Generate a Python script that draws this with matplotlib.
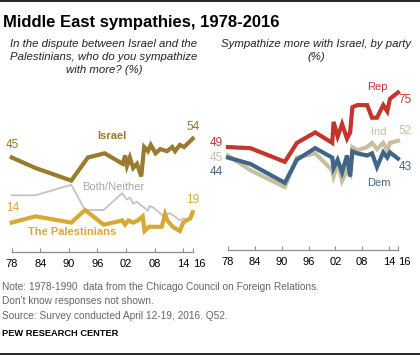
import matplotlib.pyplot as plt
from matplotlib.lines import Line2D

# left panel: who do you sympathize with more (%)
israel_x = [1978, 1983, 1990.5, 1994, 1997.5, 2001.3, 2001.8, 2002.2, 2002.8, 2003.5, 2004.3,
            2005.2, 2005.8, 2006.6, 2007.2, 2008.2, 2009.2, 2010.6, 2011.7, 2012.3, 2013.3, 2014.2, 2016]
israel_y = [45, 40, 34, 45, 47, 42, 46, 41, 45, 40, 42,
            36, 50, 48, 51, 47, 49, 48, 50, 48, 51, 50, 54]

pal_x = [1978, 1983, 1990.5, 1993.4, 1997.3, 2001.2, 2001.8, 2002.5, 2003.5, 2004.5, 2005.5, 2005.9,
         2006.8, 2009.5, 2010.2, 2010.7, 2011.8, 2013.3, 2014, 2014.7, 2015.5, 2016]
pal_y = [14, 17, 14, 20, 13, 15, 13, 15, 14, 15, 17, 10,
         12, 12, 18, 15, 12, 10, 14, 15, 16, 19]

both_x = [1978, 1983, 1990.5, 1993.4, 1997.3, 2001.2, 2002.2, 2002.8, 2003.5, 2004.3, 2005.2, 2005.9,
          2006.6, 2006.9, 2007.8, 2009.6, 2011.1, 2012.2, 2013.3, 2014, 2015, 2016]
both_y = [27, 27, 32, 20, 20, 28, 25, 26, 23, 24, 22, 21,
          19.5, 22, 21, 17.5, 18.5, 17, 15, 16, 15, 17]

# right panel: sympathize more with Israel, by party (%)
party_x = [1978, 1983, 1990.7, 1993.4, 1997.5, 2001.3, 2001.6, 2002.5, 2003.5, 2004.6, 2005.3, 2005.8,
           2006.9, 2009.1, 2010.2, 2011.3, 2012.7, 2013.6, 2014.2, 2016]
rep_y = [49, 48.5, 42, 51, 56, 51, 61, 54, 60, 53, 56, 68,
         69, 69, 63, 63, 69, 66, 72, 75]
ind_y = [45, 38, 30, 44, 46, 38, 35, 41, 33, 38, 36, 49,
         47.5, 49, 51, 48, 51, 47.5, 51, 52]
dem_y = [44, 41, 32, 43, 48.5, 44, 39, 43, 37, 45, 35, 47,
         46, 45, 46, 39.5, 46.5, 44, 46.5, 43.5]

tick_years = [1978, 1984, 1990, 1996, 2002, 2008, 2014, 2016]
tick_labels = ['78', '84', '90', '96', '02', '08', '14', '16']

plt.rcParams['font.family'] = ['Liberation Sans', 'DejaVu Sans']

W, H = 420, 355
fig = plt.figure(figsize=(W / 100, H / 100), dpi=100)


def px_axes(x0, x1, y_base, y_top):
    return fig.add_axes([x0 / W, (H - y_base) / H, (x1 - x0) / W, (y_base - y_top) / H])


def style(ax):
    ax.set_xlim(1978, 2016)
    ax.set_ylim(0, 80)
    for s in ['top', 'left', 'right']:
        ax.spines[s].set_visible(False)
    ax.spines['bottom'].set_color('#8c8c8c')
    ax.spines['bottom'].set_linewidth(0.9)
    ax.set_yticks([])
    ax.set_xticks(tick_years)
    ax.set_xticklabels(tick_labels)
    ax.tick_params(axis='x', direction='in', length=3, color='#8c8c8c', labelsize=8, pad=5)
    ax.get_xticklabels()[-1].set_ha('left')


ax1 = px_axes(11.7, 192.7, 252, 84)
style(ax1)
ax1.plot(both_x, both_y, color='#c3c3c3', lw=1.3, clip_on=False)
ax1.plot(pal_x, pal_y, color='#d8a835', lw=3, clip_on=False, solid_joinstyle='miter')
ax1.plot(israel_x, israel_y, color='#9a7a2c', lw=3, clip_on=False, solid_joinstyle='miter')

ax1.text(1976.8, 48, '45', color='#9a7a2c', fontsize=8.5, ha='left', va='bottom')
ax1.text(2016, 56.5, '54', color='#9a7a2c', fontsize=8.5, ha='center', va='bottom')
ax1.text(1999, 53, 'Israel', color='#9a7a2c', fontsize=8, fontweight='bold', ha='center', va='bottom')
ax1.text(1992.8, 28.5, 'Both/Neither', color='#a8a8a8', fontsize=8, ha='left', va='bottom')
ax1.text(1976.8, 18, '14', color='#d8a835', fontsize=8.5, ha='left', va='bottom')
ax1.text(2016, 22, '19', color='#d8a835', fontsize=8.5, ha='center', va='bottom')
ax1.text(1981.5, 7, 'The Palestinians', color='#d8a835', fontsize=8, fontweight='bold', ha='left', va='bottom')

ax2 = px_axes(228, 398, 250, 82)
style(ax2)
ax2.plot(party_x, ind_y, color='#c7bfa0', lw=3, clip_on=False, solid_joinstyle='miter')
ax2.plot(party_x, dem_y, color='#406687', lw=3, clip_on=False, solid_joinstyle='miter')
ax2.plot(party_x, rep_y, color='#c4352b', lw=3, clip_on=False, solid_joinstyle='miter')

ax2.text(1976.9, 51, '49', color='#c4352b', fontsize=8.5, ha='right', va='center')
ax2.text(1976.9, 44, '45', color='#c7bfa0', fontsize=8.5, ha='right', va='center')
ax2.text(1976.9, 37, '44', color='#406687', fontsize=8.5, ha='right', va='center')
ax2.text(2011.5, 75, 'Rep', color='#c4352b', fontsize=8, ha='center', va='bottom')
ax2.text(2016.1, 68.5, '75', color='#c4352b', fontsize=8.5, ha='left', va='bottom')
ax2.text(2011.7, 54, 'Ind', color='#c7bfa0', fontsize=8, ha='center', va='bottom')
ax2.text(2016.1, 54, '52', color='#c7bfa0', fontsize=8.5, ha='left', va='bottom')
ax2.text(2016.1, 36.5, '43', color='#406687', fontsize=8.5, ha='left', va='bottom')
ax2.text(2011.8, 29.5, 'Dem', color='#406687', fontsize=8, ha='center', va='bottom')

# titles and notes
fig.text(3 / W, 1 - 27 / H, 'Middle East sympathies, 1978-2016', fontsize=12, fontweight='bold',
         ha='left', va='baseline')
fig.text(104 / W, 1 - 39 / H,
         'In the dispute between Israel and the\nPalestinians, who do you sympathize\nwith more? (%)',
         fontsize=8.2, style='italic', ha='center', va='top', color='#222222', linespacing=1.35)
fig.text(316 / W, 1 - 39 / H, 'Sympathize more with Israel, by party\n(%)',
         fontsize=8.2, style='italic', ha='center', va='top', color='#222222', linespacing=1.35)

notes = ('Note: 1978-1990  data from the Chicago Council on Foreign Relations.\n'
         "Don't know responses not shown.\n"
         'Source: Survey conducted April 12-19, 2016. Q52.')
fig.text(2 / W, 1 - 282 / H, notes, fontsize=7.3, color='#666666', ha='left', va='top', linespacing=1.55)
fig.text(2 / W, 1 - 329 / H, 'PEW RESEARCH CENTER', fontsize=6.7, fontweight='bold', ha='left', va='top')

fig.add_artist(Line2D([0, 1], [1 - 0.8 / H, 1 - 0.8 / H], color='black', lw=1.2, transform=fig.transFigure))
fig.add_artist(Line2D([0, 1], [1 - 353.5 / H, 1 - 353.5 / H], color='black', lw=1.2, transform=fig.transFigure))

fig.savefig('out.png', dpi=100)
